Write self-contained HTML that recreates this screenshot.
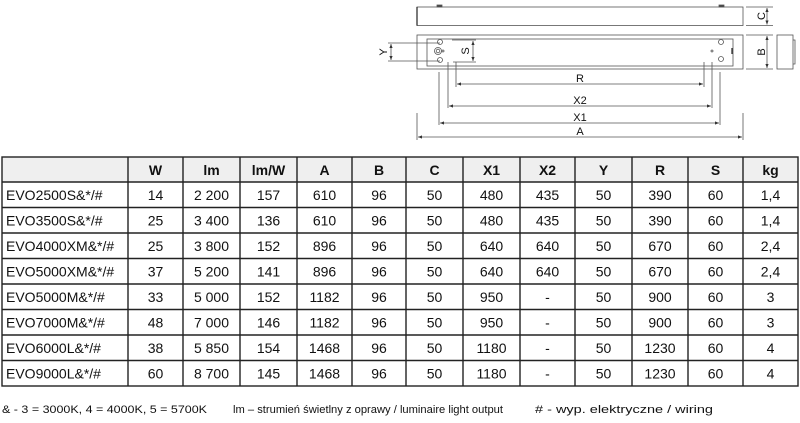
<!DOCTYPE html>
<html><head><meta charset="utf-8"><style>
html,body{margin:0;padding:0;background:#fff;width:800px;height:423px;overflow:hidden}
svg{display:block}
text{font-family:"Liberation Sans",Arial,sans-serif;fill:#111}
</style></head><body>
<svg width="800" height="423" viewBox="0 0 800 423" xmlns="http://www.w3.org/2000/svg">
<defs>
<marker id="ar" viewBox="0 0 10 10" refX="10" refY="5" markerWidth="5" markerHeight="5" orient="auto-start-reverse"><path d="M0,1 L10,5 L0,9 z" fill="#333"/></marker>
</defs>
<g stroke="#555" fill="none" stroke-width="0.8">
<rect x="417" y="7" width="326" height="18.5"/>
<line x1="417" y1="7" x2="417" y2="25.5" stroke="#222" stroke-width="1.2"/>
<rect x="437" y="5" width="5" height="2" fill="#444"/>
<rect x="719" y="5" width="5" height="2" fill="#444"/>
<line x1="746" y1="7" x2="773" y2="7"/>
<line x1="746" y1="25.5" x2="773" y2="25.5"/>
<line x1="767" y1="8" x2="767" y2="24.5" marker-start="url(#ar)" marker-end="url(#ar)"/>

<rect x="417" y="35" width="326" height="34"/>
<rect x="427" y="39" width="306" height="27"/>
<line x1="746" y1="35" x2="773" y2="35"/>
<line x1="746" y1="69" x2="773" y2="69"/>
<line x1="767" y1="36" x2="767" y2="68" marker-start="url(#ar)" marker-end="url(#ar)"/>
<rect x="777" y="35" width="16" height="34"/>
<path d="M793 40 h2 v24 h-2"/>

<line x1="388" y1="43" x2="440" y2="43"/>
<line x1="388" y1="61" x2="440" y2="61"/>
<line x1="391" y1="44" x2="391" y2="60" marker-start="url(#ar)" marker-end="url(#ar)"/>
<line x1="452" y1="40" x2="476" y2="40"/>
<line x1="453" y1="62" x2="476" y2="62"/>
<line x1="473" y1="41" x2="473" y2="61" marker-start="url(#ar)" marker-end="url(#ar)"/>
<circle cx="438" cy="51" r="3.5"/><circle cx="438" cy="51" r="1.8"/>
<circle cx="440" cy="42" r="2.5"/><circle cx="440" cy="60" r="2.5"/>
<circle cx="721" cy="42" r="2.5"/><circle cx="721" cy="59" r="2.5"/>
<circle cx="443" cy="51" r="1"/><circle cx="712" cy="51" r="1"/>
<line x1="732" y1="48" x2="732" y2="54" stroke="#222" stroke-width="1.2"/>

<line x1="417" y1="113" x2="417" y2="140"/>
<line x1="743" y1="113" x2="743" y2="140"/>
<line x1="418" y1="137" x2="742" y2="137" marker-start="url(#ar)" marker-end="url(#ar)"/>
<line x1="439" y1="72" x2="439" y2="125"/>
<line x1="720" y1="72" x2="720" y2="125"/>
<line x1="440" y1="123" x2="719" y2="123" marker-start="url(#ar)" marker-end="url(#ar)"/>
<line x1="448" y1="62" x2="448" y2="108"/>
<line x1="712" y1="62" x2="712" y2="108"/>
<line x1="449" y1="106" x2="711" y2="106" marker-start="url(#ar)" marker-end="url(#ar)"/>
<line x1="456" y1="62" x2="456" y2="87"/>
<line x1="704" y1="62" x2="704" y2="87"/>
<line x1="457" y1="84" x2="703" y2="84" marker-start="url(#ar)" marker-end="url(#ar)"/>
</g>
<g font-size="11" fill="#333">
<text x="580" y="82" text-anchor="middle">R</text>
<text x="580" y="104" text-anchor="middle">X2</text>
<text x="580" y="121" text-anchor="middle">X1</text>
<text x="580" y="135" text-anchor="middle">A</text>
<text transform="translate(765,16) rotate(-90)" text-anchor="middle">C</text>
<text transform="translate(765,52) rotate(-90)" text-anchor="middle">B</text>
<text transform="translate(387,52) rotate(-90)" text-anchor="middle">Y</text>
<text transform="translate(469,51) rotate(-90)" text-anchor="middle">S</text>
</g>

<rect x="2" y="157" width="796" height="25" fill="#efefef"/>
<g stroke="#222" stroke-width="1.4" fill="none">
<rect x="2" y="157" width="796" height="229"/>
<line x1="2" y1="182" x2="798" y2="182"/>
<line x1="2" y1="207.5" x2="798" y2="207.5"/>
<line x1="2" y1="233" x2="798" y2="233"/>
<line x1="2" y1="258.5" x2="798" y2="258.5"/>
<line x1="2" y1="284" x2="798" y2="284"/>
<line x1="2" y1="309.5" x2="798" y2="309.5"/>
<line x1="2" y1="335" x2="798" y2="335"/>
<line x1="2" y1="360.5" x2="798" y2="360.5"/>
<line x1="128" y1="157" x2="128" y2="386"/>
<line x1="183" y1="157" x2="183" y2="386"/>
<line x1="240" y1="157" x2="240" y2="386"/>
<line x1="297" y1="157" x2="297" y2="386"/>
<line x1="352" y1="157" x2="352" y2="386"/>
<line x1="406" y1="157" x2="406" y2="386"/>
<line x1="463" y1="157" x2="463" y2="386"/>
<line x1="520" y1="157" x2="520" y2="386"/>
<line x1="575" y1="157" x2="575" y2="386"/>
<line x1="632" y1="157" x2="632" y2="386"/>
<line x1="688" y1="157" x2="688" y2="386"/>
<line x1="743" y1="157" x2="743" y2="386"/>
</g>
<g font-size="14" font-weight="bold" text-anchor="middle">
<text x="155.5" y="175">W</text><text x="211.5" y="175">lm</text><text x="268.5" y="175">lm/W</text>
<text x="324.5" y="175">A</text><text x="379" y="175">B</text><text x="434.5" y="175">C</text>
<text x="491.5" y="175">X1</text><text x="547.5" y="175">X2</text><text x="603.5" y="175">Y</text>
<text x="660" y="175">R</text><text x="715.5" y="175">S</text><text x="770.5" y="175">kg</text>
</g>
<g font-size="14" text-anchor="middle">
<g transform="translate(0,200)">
<text x="6" text-anchor="start">EVO2500S&amp;*/#</text><text x="155.5">14</text><text x="211.5">2 200</text><text x="268.5">157</text><text x="324.5">610</text><text x="379">96</text><text x="434.5">50</text><text x="491.5">480</text><text x="547.5">435</text><text x="603.5">50</text><text x="660">390</text><text x="715.5">60</text><text x="770.5">1,4</text></g>
<g transform="translate(0,225.5)">
<text x="6" text-anchor="start">EVO3500S&amp;*/#</text><text x="155.5">25</text><text x="211.5">3 400</text><text x="268.5">136</text><text x="324.5">610</text><text x="379">96</text><text x="434.5">50</text><text x="491.5">480</text><text x="547.5">435</text><text x="603.5">50</text><text x="660">390</text><text x="715.5">60</text><text x="770.5">1,4</text></g>
<g transform="translate(0,251)">
<text x="6" text-anchor="start">EVO4000XM&amp;*/#</text><text x="155.5">25</text><text x="211.5">3 800</text><text x="268.5">152</text><text x="324.5">896</text><text x="379">96</text><text x="434.5">50</text><text x="491.5">640</text><text x="547.5">640</text><text x="603.5">50</text><text x="660">670</text><text x="715.5">60</text><text x="770.5">2,4</text></g>
<g transform="translate(0,276.5)">
<text x="6" text-anchor="start">EVO5000XM&amp;*/#</text><text x="155.5">37</text><text x="211.5">5 200</text><text x="268.5">141</text><text x="324.5">896</text><text x="379">96</text><text x="434.5">50</text><text x="491.5">640</text><text x="547.5">640</text><text x="603.5">50</text><text x="660">670</text><text x="715.5">60</text><text x="770.5">2,4</text></g>
<g transform="translate(0,302)">
<text x="6" text-anchor="start">EVO5000M&amp;*/#</text><text x="155.5">33</text><text x="211.5">5 000</text><text x="268.5">152</text><text x="324.5">1182</text><text x="379">96</text><text x="434.5">50</text><text x="491.5">950</text><text x="547.5">-</text><text x="603.5">50</text><text x="660">900</text><text x="715.5">60</text><text x="770.5">3</text></g>
<g transform="translate(0,327.5)">
<text x="6" text-anchor="start">EVO7000M&amp;*/#</text><text x="155.5">48</text><text x="211.5">7 000</text><text x="268.5">146</text><text x="324.5">1182</text><text x="379">96</text><text x="434.5">50</text><text x="491.5">950</text><text x="547.5">-</text><text x="603.5">50</text><text x="660">900</text><text x="715.5">60</text><text x="770.5">3</text></g>
<g transform="translate(0,353)">
<text x="6" text-anchor="start">EVO6000L&amp;*/#</text><text x="155.5">38</text><text x="211.5">5 850</text><text x="268.5">154</text><text x="324.5">1468</text><text x="379">96</text><text x="434.5">50</text><text x="491.5">1180</text><text x="547.5">-</text><text x="603.5">50</text><text x="660">1230</text><text x="715.5">60</text><text x="770.5">4</text></g>
<g transform="translate(0,378.5)">
<text x="6" text-anchor="start">EVO9000L&amp;*/#</text><text x="155.5">60</text><text x="211.5">8 700</text><text x="268.5">145</text><text x="324.5">1468</text><text x="379">96</text><text x="434.5">50</text><text x="491.5">1180</text><text x="547.5">-</text><text x="603.5">50</text><text x="660">1230</text><text x="715.5">60</text><text x="770.5">4</text></g>
</g>
<g font-size="11" fill="#222">
<text x="2" y="413" textLength="205" lengthAdjust="spacingAndGlyphs">&amp; - 3 = 3000K, 4 = 4000K, 5 = 5700K</text>
<text x="233" y="413" textLength="270" lengthAdjust="spacingAndGlyphs">lm – strumień świetlny z oprawy / luminaire light output</text>
<text x="535" y="413" textLength="178" lengthAdjust="spacingAndGlyphs"># - wyp. elektryczne / wiring</text>
</g>
</svg>
</body></html>
